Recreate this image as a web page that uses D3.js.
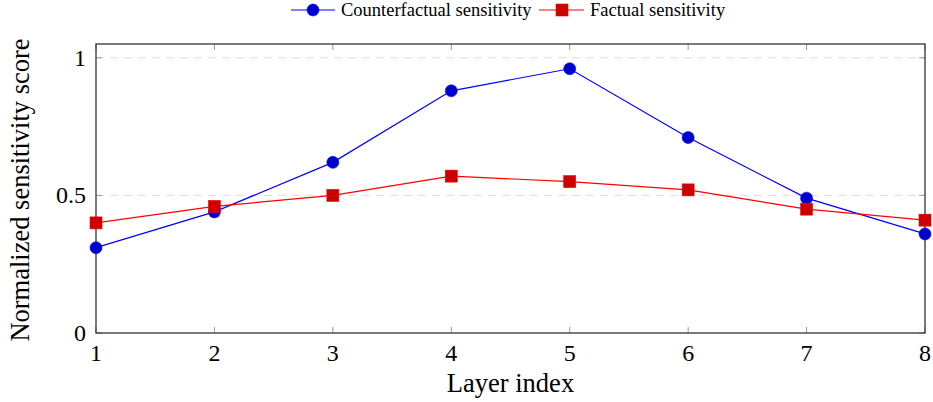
<!DOCTYPE html>
<html>
<head>
<meta charset="utf-8">
<script src="https://cdn.jsdelivr.net/npm/d3@7"></script>
<style>
body { margin: 0; background: #fff; }
text { font-family: "Liberation Serif", "Times New Roman", serif; fill: #000; }
</style>
</head>
<body>
<script>
var layers = [1, 2, 3, 4, 5, 6, 7, 8];
var counterfactual = [0.31, 0.44, 0.62, 0.88, 0.96, 0.71, 0.49, 0.36];
var factual = [0.40, 0.46, 0.50, 0.57, 0.55, 0.52, 0.45, 0.41];
var yTicks = [0, 0.5, 1];

var width = 933, height = 402;
var svg = d3.select("body").append("svg").attr("width", width).attr("height", height);

var plotLeft = 96, plotRight = 925, plotTop = 44, plotBottom = 333;
var x = d3.scaleLinear().domain([1, 8]).range([plotLeft, plotRight]);
var y = d3.scaleLinear().domain([0, 1.05]).range([plotBottom, plotTop]);

// grid
svg.append("g").selectAll("line")
    .data([0.5, 1])
    .enter().append("line")
    .attr("x1", plotLeft).attr("x2", plotRight)
    .attr("y1", function (d) { return y(d); })
    .attr("y2", function (d) { return y(d); })
    .attr("stroke", "#dcdcdc")
    .attr("stroke-width", 1)
    .attr("stroke-dasharray", "8,6");

// inner tick marks
var tk = svg.append("g").attr("stroke", "#999").attr("stroke-width", 1);
layers.forEach(function (d) {
    tk.append("line").attr("x1", x(d)).attr("x2", x(d)).attr("y1", plotBottom).attr("y2", plotBottom - 6);
    tk.append("line").attr("x1", x(d)).attr("x2", x(d)).attr("y1", plotTop).attr("y2", plotTop + 6);
});
yTicks.forEach(function (d) {
    tk.append("line").attr("x1", plotLeft).attr("x2", plotLeft + 6).attr("y1", y(d)).attr("y2", y(d));
    tk.append("line").attr("x1", plotRight).attr("x2", plotRight - 6).attr("y1", y(d)).attr("y2", y(d));
});

// frame
svg.append("rect")
    .attr("x", plotLeft).attr("y", plotTop)
    .attr("width", plotRight - plotLeft).attr("height", plotBottom - plotTop)
    .attr("fill", "none").attr("stroke", "#333").attr("stroke-width", 1.3);

// tick labels
svg.append("g").selectAll("text")
    .data(layers)
    .enter().append("text")
    .attr("x", function (d) { return x(d); })
    .attr("y", plotBottom + 28)
    .attr("text-anchor", "middle")
    .style("font-size", "24px")
    .text(function (d) { return d; });

svg.append("g").selectAll("text")
    .data(yTicks)
    .enter().append("text")
    .attr("x", plotLeft - 10)
    .attr("y", function (d) { return y(d) + 8; })
    .attr("text-anchor", "end")
    .style("font-size", "24px")
    .text(function (d) { return d; });

// axis titles
svg.append("text")
    .attr("x", (plotLeft + plotRight) / 2)
    .attr("y", 392)
    .attr("text-anchor", "middle")
    .style("font-size", "26.5px")
    .text("Layer index");

svg.append("text")
    .attr("transform", "translate(29,190) rotate(-90)")
    .attr("text-anchor", "middle")
    .style("font-size", "26.5px")
    .text("Normalized sensitivity score");

// series
var line = d3.line()
    .x(function (d, i) { return x(layers[i]); })
    .y(function (d) { return y(d); });

svg.append("path").datum(counterfactual)
    .attr("d", line).attr("fill", "none")
    .attr("stroke", "#0000ff").attr("stroke-width", 1.2);
svg.append("path").datum(factual)
    .attr("d", line).attr("fill", "none")
    .attr("stroke", "#ff0000").attr("stroke-width", 1.2);

svg.append("g").selectAll("circle")
    .data(counterfactual)
    .enter().append("circle")
    .attr("cx", function (d, i) { return x(layers[i]); })
    .attr("cy", function (d) { return y(d); })
    .attr("r", 6)
    .attr("fill", "#0000cc").attr("stroke", "#0000ff").attr("stroke-width", 0.6);

svg.append("g").selectAll("rect")
    .data(factual)
    .enter().append("rect")
    .attr("x", function (d, i) { return x(layers[i]) - 6; })
    .attr("y", function (d) { return y(d) - 6; })
    .attr("width", 12).attr("height", 12)
    .attr("fill", "#cc0000").attr("stroke", "#ff0000").attr("stroke-width", 0.6);

// legend
var lg = svg.append("g");
lg.append("line").attr("x1", 291).attr("x2", 335).attr("y1", 10).attr("y2", 10)
    .attr("stroke", "#0000ff").attr("stroke-width", 1.2);
lg.append("circle").attr("cx", 313).attr("cy", 10).attr("r", 6)
    .attr("fill", "#0000cc").attr("stroke", "#0000ff").attr("stroke-width", 0.6);
lg.append("text").attr("x", 341).attr("y", 16).style("font-size", "18.5px")
    .text("Counterfactual sensitivity");
lg.append("line").attr("x1", 539).attr("x2", 584).attr("y1", 10).attr("y2", 10)
    .attr("stroke", "#ff0000").attr("stroke-width", 1.2);
lg.append("rect").attr("x", 556).attr("y", 4).attr("width", 12).attr("height", 12)
    .attr("fill", "#cc0000").attr("stroke", "#ff0000").attr("stroke-width", 0.6);
lg.append("text").attr("x", 590).attr("y", 16).style("font-size", "18.5px")
    .text("Factual sensitivity");
</script>
</body>
</html>
